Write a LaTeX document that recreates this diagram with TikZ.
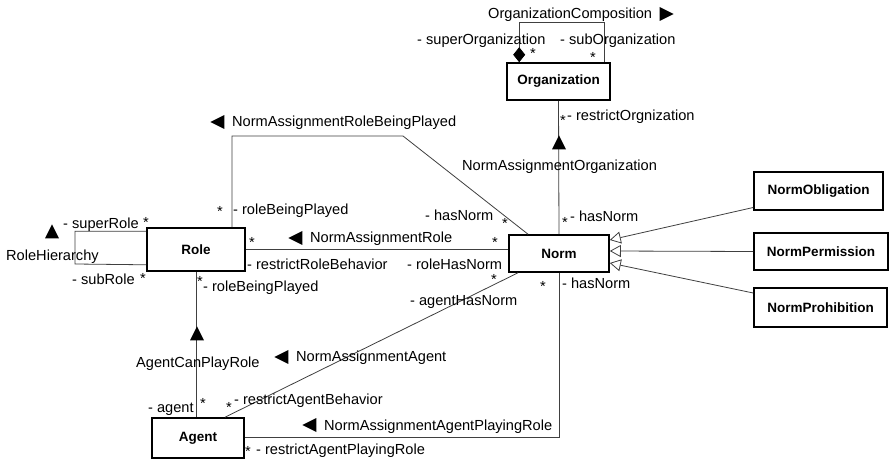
\documentclass[tikz,border=0pt]{standalone}
\usepackage{fontspec}
\setmainfont{Liberation Sans}
\usetikzlibrary{
	arrows.meta,
	positioning,
	shapes.geometric
}

\begin{document}
\begin{tikzpicture}[
		x=1pt,y=-1pt,
		>=Stealth,
		cls/.style={
			draw,
			line width=1.6pt,
			inner sep=0pt,
			font=\fontsize{13.5}{16}\selectfont\bfseries
		},
		assoc/.style={
			draw=black!75,
			line width=0.8pt
		},
		gen/.style={
			assoc,
			-{Triangle[open,length=11pt,width=12pt]}
		},
		lbl/.style={
			anchor=west,
			inner sep=0pt,
			text height=10pt,
			text depth=0pt,
			font=\fontsize{14.6}{17}\selectfont
		},
		mult/.style={
			inner sep=0pt,
			font=\fontsize{14.6}{17}\selectfont
		},
		dirtri/.style={
			isosceles triangle,
			isosceles triangle stretches,
			fill=black,
			inner sep=0pt,
			minimum width=14pt,
			minimum height=14pt
		}
		]
		
		\fill[white] (0,0) rectangle (892,462);
		\useasboundingbox (0,0) rectangle (892,462);
		
		% Classes
		\node[cls, minimum width=103pt, minimum height=37pt] (org) at (558.5,81.5) {Organization};
		\node[cls, minimum width=100pt, minimum height=37pt] (norm) at (559,253.5) {Norm};
		\node[cls, minimum width=98pt, minimum height=43pt] (role) at (196,249.5) {Role};
		\node[cls, minimum width=92pt, minimum height=40pt] (agent) at (198,438) {Agent};
		\node[cls, minimum width=129pt, minimum height=38pt] (obl) at (818.5,191) {NormObligation};
		\node[cls, minimum width=134pt, minimum height=37pt] (perm) at (821,251.5) {NormPermission};
		\node[cls, minimum width=133pt, minimum height=39pt] (proh) at (820.5,307.5) {NormProhibition};
		
		% Organization composition
		\draw[assoc, -{Diamond[length=15pt,width=12pt,color=black]}]
		([xshift=-6pt]org.north east) -- ++(0,-40) -| ([xshift=13pt]org.north west);
		\node[lbl] (lOrgComp) at (488,14) {OrganizationComposition};
		\node[dirtri] (tOrgComp) at (664,14) {};
		\node[lbl] (lSuperOrg) at (417,40) {- superOrganization};
		\node[mult] (mSuperOrg) at (533,53) {*};
		\node[lbl] (lSubOrg) at (560,40) {- subOrganization};
		\node[mult] (mSubOrg) at (593,57) {*};
		
		% Norm - Organization
		\draw[assoc] (org.south) -- (norm.north);
		\node[dirtri, shape border rotate=90] (tNormOrg) at (559,145) {};
		\node[mult] (mRestrictOrg) at (563,120) {*};
		\node[lbl] (lRestrictOrg) at (567,116) {- restrictOrgnization};
		\node[lbl] (lNormOrg) at (462,166) {NormAssignmentOrganization};
		\node[mult] (mOrgHasNorm) at (565,222) {*};
		\node[lbl] (lOrgHasNorm) at (570,217) {- hasNorm};
		
		% Role hierarchy
		\draw[assoc] ([yshift=-4pt]role.north west) -| (75,264) -- ([yshift=7pt]role.south west);
		\node[dirtri, shape border rotate=90] (tRoleHier) at (52,234) {};
		\node[lbl] (lRoleHier) at (6,256) {RoleHierarchy};
		\node[lbl] (lSuperRole) at (63,224) {- superRole};
		\node[mult] (mSuperRole) at (146,222) {*};
		\node[lbl] (lSubRole) at (72,280) {- subRole};
		\node[mult] (mSubRole) at (143,278) {*};
		
		% Norm - Role being played
		\coordinate (rbpBend) at (403,136);
		\draw[assoc] ([xshift=36pt]role.north) |- (rbpBend) -- ([xshift=-31pt]norm.north);
		\node[dirtri, shape border rotate=180] (tNormRbp) at (220,122) {};
		\node[lbl] (lNormRbp) at (232,122) {NormAssignmentRoleBeingPlayed};
		\node[mult] (mRbp) at (220,211) {*};
		\node[lbl] (lRbp) at (233,210) {- roleBeingPlayed};
		\node[lbl] (lRbpHasNorm) at (425,216) {- hasNorm};
		\node[mult] (mRbpHasNorm) at (505,223) {*};
		
		% Norm - Role
		\draw[assoc] (role.east) -- (role.east -| norm.west);
		\node[dirtri, shape border rotate=180] (tNormRole) at (298,238) {};
		\node[lbl] (lNormRole) at (310,238) {NormAssignmentRole};
		\node[mult] (mRoleBeh) at (252,242) {*};
		\node[mult] (mRoleHasNorm) at (495,242) {*};
		\node[lbl] (lRoleBeh) at (247,265) {- restrictRoleBehavior};
		\node[lbl] (lRoleHasNorm) at (407,265) {- roleHasNorm};
		
		% Agent - Role
		\draw[assoc] (role.south) -- (role.south |- agent.north);
		\node[dirtri, shape border rotate=90] (tCanPlay) at (197,336) {};
		\node[mult] (mRoleBp) at (200,281) {*};
		\node[lbl] (lRoleBp) at (203,287) {- roleBeingPlayed};
		\node[lbl] (lCanPlay) at (136,362) {AgentCanPlayRole};
		\node[lbl] (lAgent) at (148,407) {- agent};
		\node[mult] (mAgent) at (203,403) {*};
		
		% Norm - Agent
		\draw[assoc] ([xshift=27pt]agent.north) -- ([xshift=-41pt]norm.south);
		\node[dirtri, shape border rotate=180] (tNormAgent) at (284,357) {};
		\node[lbl] (lNormAgent) at (296,357) {NormAssignmentAgent};
		\node[mult] (mAgentBeh) at (229,407) {*};
		\node[lbl] (lAgentBeh) at (234,400) {- restrictAgentBehavior};
		\node[mult] (mAgentHasNorm) at (494,279) {*};
		\node[lbl] (lAgentHasNorm) at (410,301) {- agentHasNorm};
		
		% Norm - Agent playing role
		\draw[assoc] ([yshift=1pt]agent.east) -| (norm.south);
		\node[dirtri, shape border rotate=180] (tNormAgentPr) at (312,425) {};
		\node[lbl] (lNormAgentPr) at (324,425) {NormAssignmentAgentPlayingRole};
		\node[mult] (mAgentPr) at (248,451) {*};
		\node[lbl] (lAgentPr) at (256,449) {- restrictAgentPlayingRole};
		\node[mult] (mPrHasNorm) at (543,286) {*};
		\node[lbl] (lPrHasNorm) at (562,284) {- hasNorm};
		
		% Generalization
		\foreach \sub/\ys/\ye in {obl/-16.5/13.5, perm/0/2.5, proh/14.5/-9.5}
		\draw[gen] ([yshift=\ys pt]\sub.west) -- ([yshift=\ye pt]norm.east);
		
	\end{tikzpicture}
\end{document}
